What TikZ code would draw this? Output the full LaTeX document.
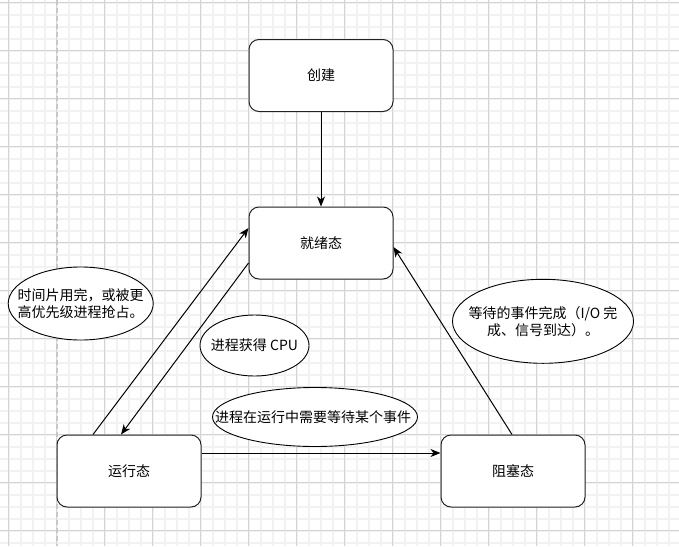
\documentclass[tikz,border=0pt]{standalone}
\usepackage{fontspec}
\setmainfont{Noto Sans CJK SC}
\usetikzlibrary{arrows.meta,shapes.geometric,calc}
\definecolor{minorgrid}{HTML}{F2F2F2}
\definecolor{majorgrid}{HTML}{D4D4D4}
\definecolor{pageline}{HTML}{C8C8C8}
\definecolor{boxline}{HTML}{222222}
\tikzset{
  statebox/.style={draw=boxline, line width=1pt, rounded corners=10pt, fill=white,
    minimum width=144pt, minimum height=72pt, inner sep=0pt,
    font=\fontsize{14}{17}\selectfont},
  noteshape/.style={draw=black, line width=0.9pt, ellipse, fill=white, inner sep=0pt},
  notetext/.style={inner sep=0pt, align=center, font=\fontsize{14}{17}\selectfont},
  conn/.style={draw=black, line width=1pt, -{Stealth[length=10pt,width=8pt,inset=3pt]}}
}
\begin{document}
\begin{tikzpicture}[x=1pt,y=-1pt]
\useasboundingbox (0,0) rectangle (679,546);
\fill[white] (0,0) rectangle (679,546);
% minor grid
\foreach \gx in {0,...,56} {
  \draw[minorgrid, line width=1.8pt] ({8.6+12*\gx},0) -- ({8.6+12*\gx},546);
}
\foreach \gy in {0,...,45} {
  \draw[minorgrid, line width=1.8pt] (0,{2.7+12*\gy}) -- (679,{2.7+12*\gy});
}
% major grid
\foreach \gx in {0,...,14} {
  \draw[majorgrid, line width=1pt] ({8.6+48*\gx},0) -- ({8.6+48*\gx},546);
}
\foreach \gy in {0,...,11} {
  \draw[majorgrid, line width=1pt] (0,{2.7+48*\gy}) -- (679,{2.7+48*\gy});
}
% page break line
\draw[pageline, line width=2pt, dash pattern=on 5pt off 3pt] (56.8,0) -- (56.8,546);

% states
\node[statebox] (create) at (321,75.5) {创建};
\node[statebox] (ready) at (321,243) {就绪态};
\node[statebox] (run) at (129,471) {运行态};
\node[statebox] (block) at (513,471) {阻塞态};

% connectors
\draw[conn] (create.south) -- (ready.north);
\draw[conn] ($(run.north)+(-36,0)$) -- ($(ready.west)+(0,-15)$);
\draw[conn] ($(ready.west)+(0,20)$) -- ($(run.north)+(-8,0)$);
\draw[conn] ($(run.east)+(0,-18)$) -- ($(block.west)+(0,-18)$);
\draw[conn] ($(block.north)+(-1,0)$) -- ($(ready.east)+(0,4)$);

% notes
\node[noteshape, minimum width=145pt, minimum height=73pt] (n1) at (80.7,303.5) {};
\node[notetext] (t1) at (n1.center) {时间片用完，或被更\\高优先级进程抢占。};
\node[noteshape, minimum width=109pt, minimum height=61pt] (n2) at (254.5,345.5) {};
\node[notetext] (t2) at (n2.center) {进程获得 CPU};
\node[noteshape, minimum width=205pt, minimum height=59pt] (n3) at (315,417) {};
\node[notetext] (t3) at ($(n3.center)+(-2,0)$) {进程在运行中需要等待某个事件};
\node[noteshape, minimum width=181pt, minimum height=84pt] (n4) at (543,321.3) {};
\node[notetext] (t4) at (n4.center) {等待的事件完成（I/O 完\\成、信号到达）。};
\end{tikzpicture}
\end{document}
